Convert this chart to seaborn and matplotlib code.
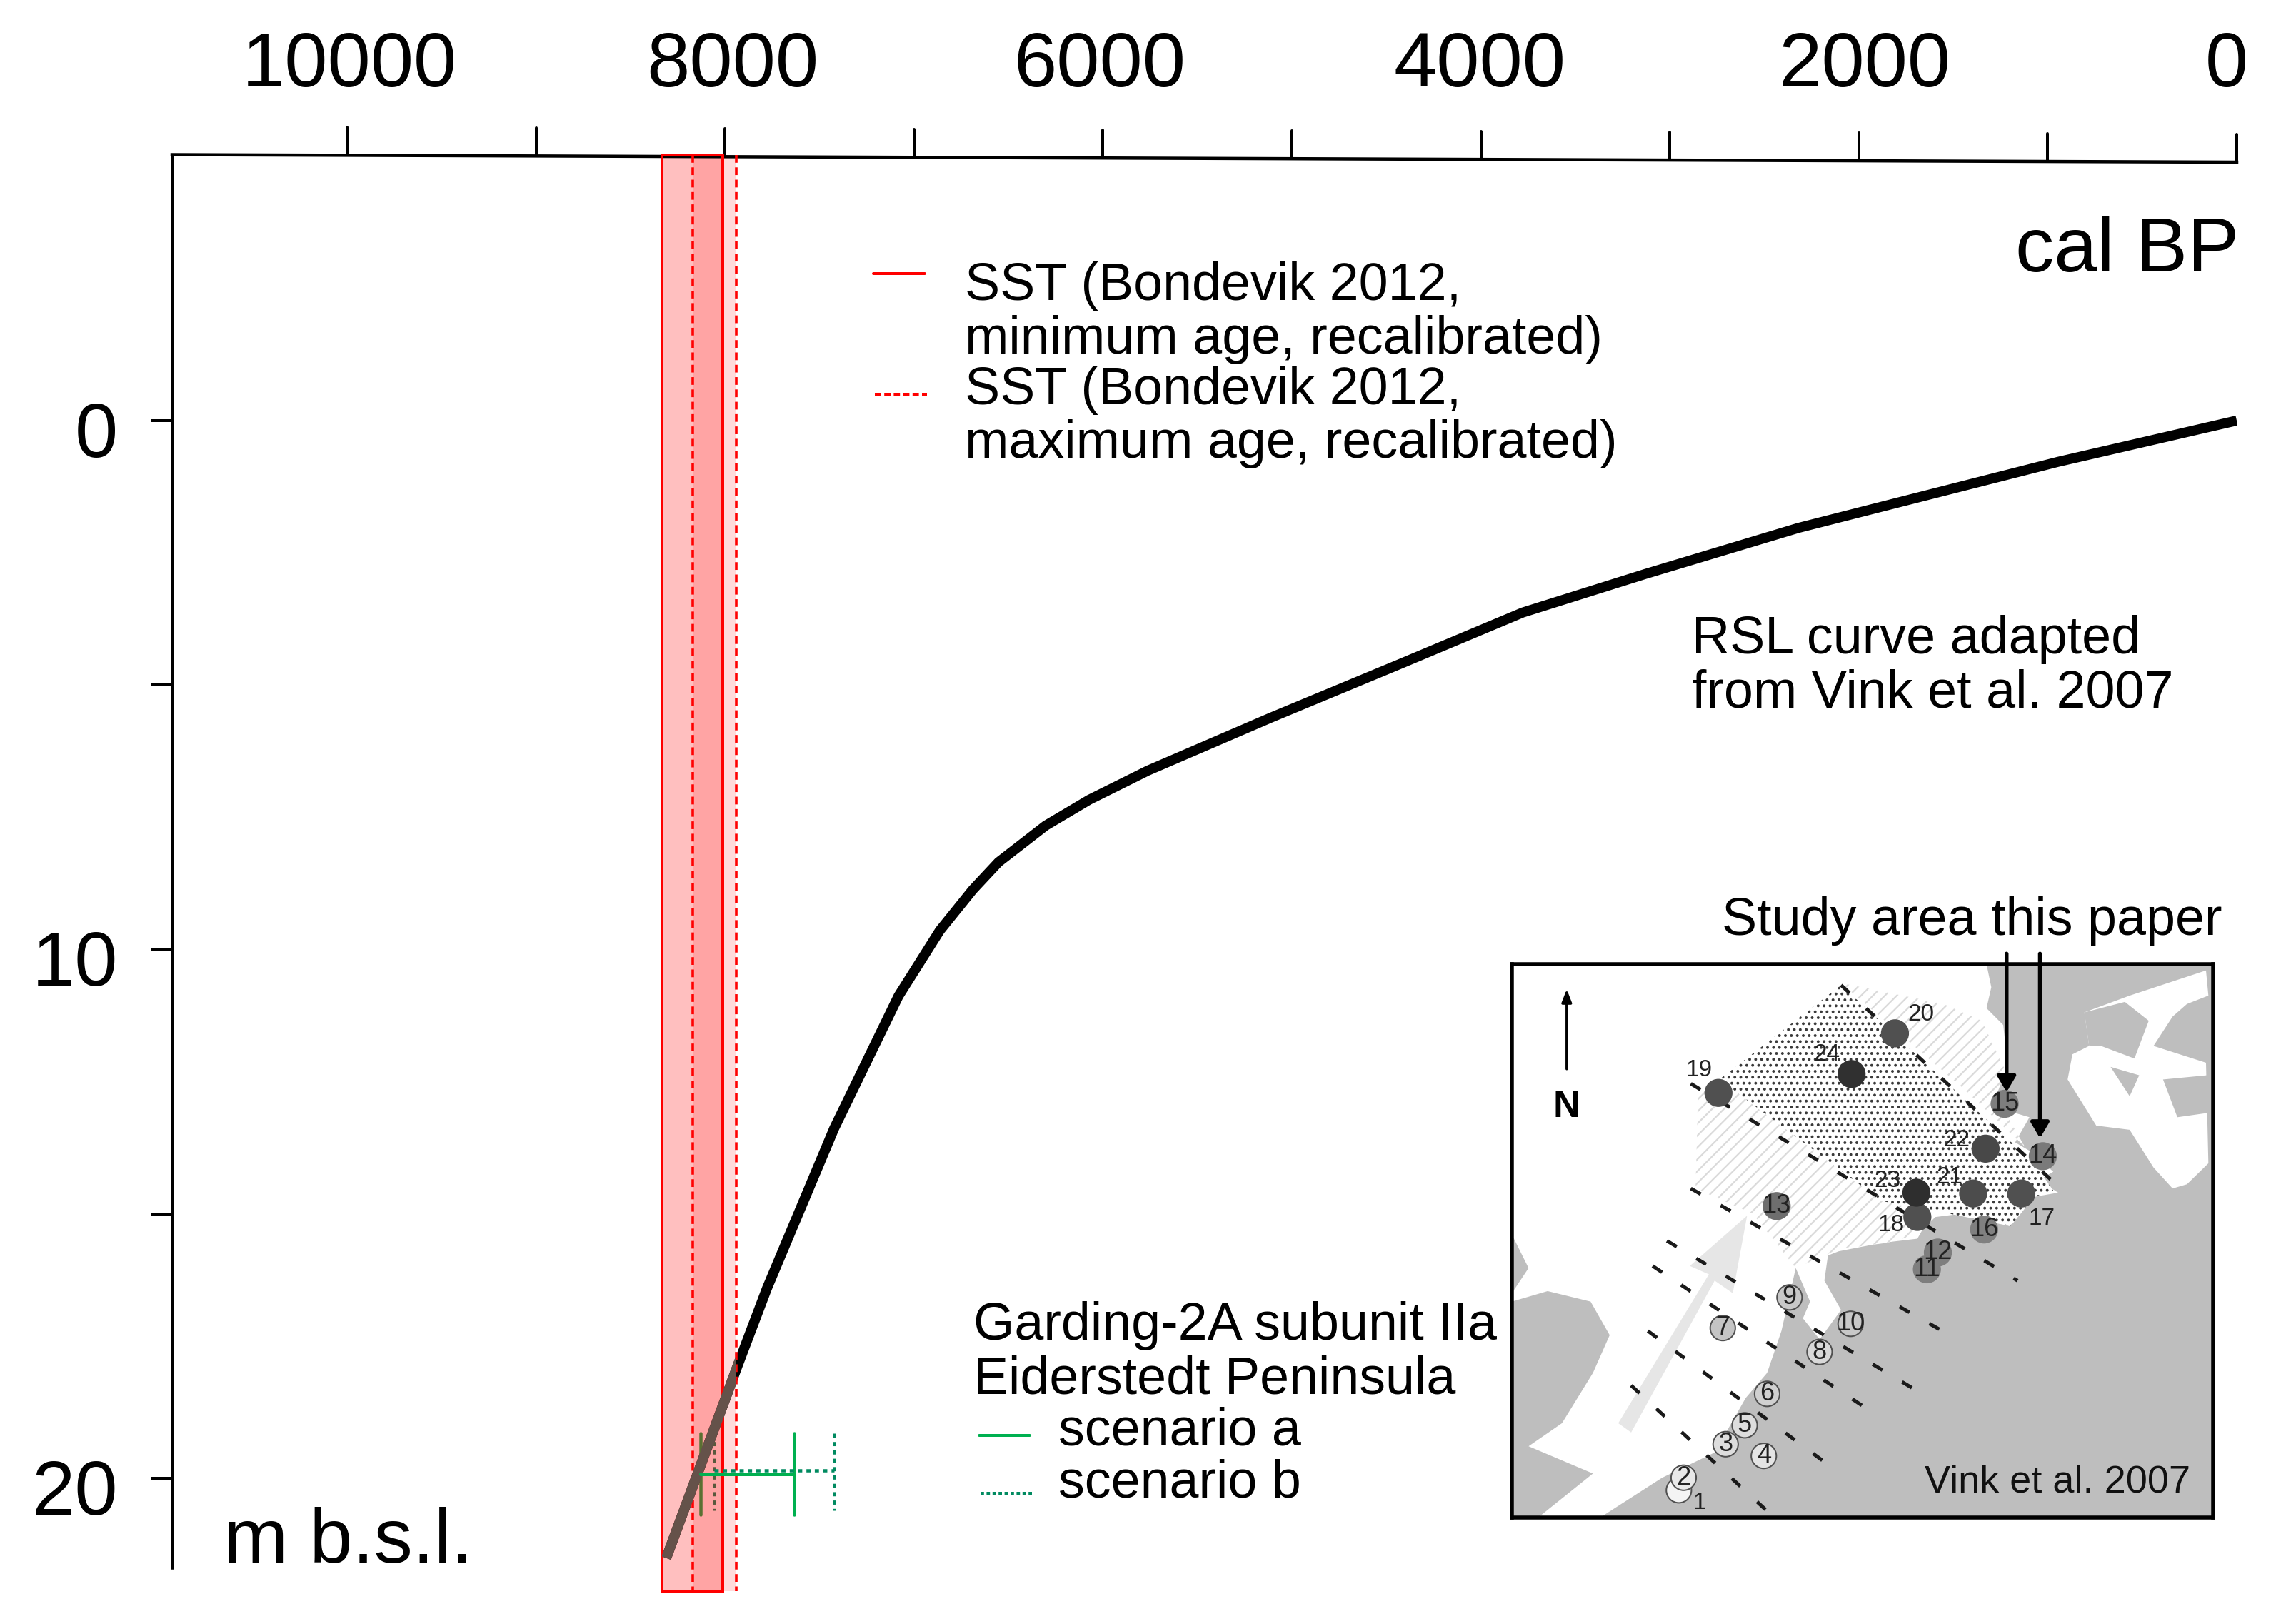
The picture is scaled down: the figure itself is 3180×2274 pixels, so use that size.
import numpy as np
import pandas as pd
import matplotlib
matplotlib.use("Agg")
import matplotlib.pyplot as plt
from matplotlib.lines import Line2D
from matplotlib.patches import Polygon, Rectangle
from matplotlib.transforms import ScaledTranslation
import seaborn as sns

# ---- chart values ----
age_ticks_major = [10000, 8000, 6000, 4000, 2000, 0]
age_ticks_all = [10000, 9000, 8000, 7000, 6000, 5000, 4000, 3000, 2000, 1000, 0]
depth_ticks_labeled = [0, 10, 20]
depth_ticks_all = [0, 5, 10, 15, 20]
curve_age = [0, 945, 2320, 3129, 3779, 4426, 5113, 5763, 6073, 6304, 6553, 6689, 6863, 7082, 7422, 7778, 7933, 8311]
curve_depth = [0, 0.78, 2.03, 2.90, 3.63, 4.60, 5.62, 6.62, 7.17, 7.66, 8.35, 8.87, 9.64, 10.88, 13.38, 16.41, 17.87, 21.51]
sst_min_age = [8332, 8012]
sst_max_age = [8172, 7940]
sst_depth = [-5.02, 22.13]
scen_a_age = [8131, 7634]
scen_a_depth = 19.92
scen_a_span = [19.15, 20.69]
scen_b_age = [8056, 7422]
scen_b_depth = 19.85
scen_b_span = [19.15, 20.61]

# ---- inset map values (in map-image units) ----
sea_outline = [(55,205),(1050,205),(1060,260),(1050,310),(1085,350),(1095,450),(1065,500),(1110,560),(1140,570),
               (1110,630),(1140,650),(1190,700),(1160,720),(1200,750),(1150,760),(1100,830),(1000,800),(930,810),
               (905,860),(830,870),(740,890),(650,930),(620,1080),(590,1180),(545,1240),(480,1370),(370,1430),
               (240,1525),(110,1525),(225,1420),(90,1355),(160,1300),(225,1180),(260,1090),(220,1010),(130,985),
               (55,1010),(55,990),(90,930),(55,850)]
bay_outline = [(650,930),(720,880),(710,960),(745,1030),(700,1100),(665,1050),(680,1010)]
island_outline = [(1255,320),(1350,280),(1510,220),(1515,280),(1470,300),(1440,330),(1400,400),(1510,440),(1515,680),
                  (1470,730),(1440,740),(1400,690),(1350,600),(1280,590),(1220,480),(1230,420),(1265,400)]
island_gray_outline = [(1255,320),(1340,295),(1390,340),(1360,430),(1290,400),(1265,400)]
island_gray_east = [(1420,480),(1512,470),(1512,560),(1450,570)]
island_gray_mid = [(1310,450),(1370,470),(1350,520)]
stripe_lower = [(445,520),(490,480),(830,770),(950,800),(905,850),(840,870),(740,885),(650,930),(560,800),(440,740)]
stripe_upper = [(745,250),(960,300),(1040,340),(1090,460),(1070,520),(1130,640),(1000,500)]
dots_outline = [(490,480),(745,255),(1150,680),(1190,745),(1150,760),(1100,830),(950,795),(830,770)]
flow_arrow = [(278,1300),(305,1322),(480,960),(518,990),(548,805),(428,925),(468,945)]
isobase_lines = [
    [(745,255),(1205,740)],
    [(430,490),(1115,960)],
    [(430,740),(965,1085)],
    [(380,865),(900,1220)],
    [(350,925),(805,1270)],
    [(340,1080),(725,1405)],
    [(305,1210),(600,1520)],
]
site_id = [1,2,3,4,5,6,7,8,9,10,11,12,13,14,15,16,17,18,19,20,21,22,23,24]
site_x = [405,415,503,583,543,590,497,700,637,765,925,948,610,1168,1088,1045,1123,905,488,858,1022,1048,903,767]
site_y = [1460,1430,1350,1378,1305,1230,1073,1130,1000,1063,933,893,782,663,538,838,752,808,512,370,752,645,750,467]
site_shade = ["#F4F4F4","#E8E8E8","#DDDDDD","#E4E4E4","#DDDDDD","#D0D0D0","#C4C4C4","#D8D8D8","#C8C8C8","#C8C8C8",
              "#7E7E7E","#7E7E7E","#6E6E6E","#7A7A7A","#7E7E7E","#808080","#505050","#505050","#505050","#505050",
              "#4C4C4C","#484848","#2E2E2E","#303030"]
outer_label_id = [1,17,18,19,20,21,22,23,24]
outer_label_x = [448,1165,850,448,912,972,988,843,715]
outer_label_y = [1490,812,828,458,325,713,625,722,420]

W, H, DPI = 3180, 2274, 100
sns.set_theme(style="white")
plt.rcParams["font.family"] = ["Liberation Sans", "DejaVu Sans"]
plt.rcParams["hatch.linewidth"] = 1.6

fig = plt.figure(figsize=(W / DPI, H / DPI), dpi=DPI, facecolor="white")
L, R, T, B = 241, 3132, 216.5, 2195
ax = fig.add_axes([L / W, 1 - B / H, (R - L) / W, (B - T) / H])
ax.set_facecolor("none")
ax.set_xlim(10926, 0)
ax.set_ylim(21.69, -5.03)

PT = 72 / DPI  # points per pixel
AX_LW = 4.5 * PT
RED, GREEN, TEAL = "#FF0000", "#00B050", "#008A60"

curve = pd.DataFrame({"age": curve_age, "depth": curve_depth})
sns.lineplot(data=curve, x="age", y="depth", sort=False, estimator=None, ax=ax, color="black",
             linewidth=14 * PT, zorder=1, solid_capstyle="butt")
brown = sns.lineplot(data=curve, x="age", y="depth", sort=False, estimator=None, ax=ax, color="#65524A",
                     linewidth=14 * PT, zorder=6, solid_capstyle="butt").lines[-1]
brown.set_clip_path(Rectangle((sst_max_age[1], sst_depth[0]), sst_min_age[0] - sst_max_age[1],
                              sst_depth[1] - sst_depth[0], transform=ax.transData))

# Error bars
ax.plot(scen_a_age, [scen_a_depth] * 2, color=GREEN, lw=5 * PT, zorder=7)
ax.plot(scen_b_age, [scen_b_depth] * 2, color=TEAL, lw=4.5 * PT, ls=(0, (1.3, 1.3)), zorder=7)
for a in scen_a_age:
    ax.plot([a, a], scen_a_span, color=GREEN, lw=4.5 * PT, zorder=2)
for a in scen_b_age:
    ax.plot([a, a], scen_b_span, color=TEAL, lw=4.5 * PT, ls=(0, (1.3, 1.3)), zorder=2)

# SST bands
ax.add_patch(Rectangle((sst_min_age[1], sst_depth[0]), sst_min_age[0] - sst_min_age[1], sst_depth[1] - sst_depth[0],
                       facecolor=RED, alpha=0.25, edgecolor="none", zorder=3, clip_on=False))
ax.add_patch(Rectangle((sst_min_age[1], sst_depth[0]), sst_min_age[0] - sst_min_age[1], sst_depth[1] - sst_depth[0],
                       facecolor="none", edgecolor=RED, lw=4 * PT, zorder=5, clip_on=False))
ax.add_patch(Rectangle((sst_max_age[1], sst_depth[0]), sst_max_age[0] - sst_max_age[1], sst_depth[1] - sst_depth[0],
                       facecolor=RED, alpha=0.14, edgecolor="none", zorder=3, clip_on=False))
for a in sst_max_age:
    ax.plot([a, a], sst_depth, color=RED, lw=3.6 * PT, ls=(0, (3.0, 1.8)), zorder=5, clip_on=False)

# Axes: tilted top line as in the source scan, real tick labels
for s in ("top", "right", "bottom"):
    ax.spines[s].set_visible(False)
ax.spines["left"].set_linewidth(AX_LW)
ax.spines["left"].set_color("black")
ax.xaxis.tick_top()
ax.set_xticks(age_ticks_major, [str(v) for v in age_ticks_major])
ax.tick_params(axis="x", length=0, pad=53, labelsize=78, labelcolor="black")
ax.set_yticks(depth_ticks_all, [str(v) if v in depth_ticks_labeled else "" for v in depth_ticks_all])
ax.tick_params(axis="y", length=29 * PT, width=4 * PT, color="black", pad=34, labelsize=78, labelcolor="black",
               left=True)
ax.set_xlabel("")
ax.set_ylabel("")


def top_y(age):
    return ax.get_ylim()[1] + (10926 - np.asarray(age, float)) / 10926 * 10.5 / 74.05


ax.plot([10926, 0], top_y([10926, 0]), color="black", lw=AX_LW, zorder=4, clip_on=False, solid_capstyle="projecting")
for a in age_ticks_all:
    y0 = top_y(a)
    ax.plot([a, a], [y0, y0 - 39 / 74.05], color="black", lw=4 * PT, zorder=4, clip_on=False)

label_shift_x = [3, 11, -4, -2, 8, -14]
for lab, dx in zip(ax.get_xticklabels(), label_shift_x):
    lab.set_transform(lab.get_transform() + ScaledTranslation(dx / DPI, 0, fig.dpi_scale_trans))
for lab in ax.get_yticklabels():
    lab.set_transform(lab.get_transform() + ScaledTranslation(0, -12 / DPI, fig.dpi_scale_trans))


def ftext(px, py, s, size=53, **kw):
    kw.setdefault("va", "center")
    kw.setdefault("ha", "left")
    kw.setdefault("color", "black")
    return fig.text(px / W, 1 - py / H, s, fontsize=size, **kw)


def fline(x0, x1, y, color, **kw):
    kw.setdefault("lw", 4 * PT)
    fig.add_artist(Line2D([x0 / W, x1 / W], [1 - y / H] * 2, color=color, **kw))


ftext(3135, 380, "cal BP", size=78, ha="right", va="baseline")
ftext(313, 2188, "m b.s.l.", size=78, va="baseline")
LS = 1.12
ftext(1351, 438, "SST (Bondevik 2012,\nminimum age, recalibrated)", linespacing=LS)
ftext(1351, 584, "SST (Bondevik 2012,\nmaximum age, recalibrated)", linespacing=LS)
ftext(2369, 933, "RSL curve adapted\nfrom Vink et al. 2007", linespacing=LS)
ftext(1363, 1894, "Garding-2A subunit IIa\nEiderstedt Peninsula", linespacing=LS)
ftext(1482, 2004, "scenario a")
ftext(1482, 2077, "scenario b")
ftext(2411, 1290, "Study area this paper")
fline(1223, 1295, 383, RED)
fline(1225, 1298, 552, RED, ls=(0, (2.2, 1.1)))
fline(1371, 1442, 2010, GREEN)
fline(1373, 1448, 2091, TEAL, ls=(0, (1.2, 0.9)))

# ---- inset map ----
IL, IR, IT, IB = 2117, 3099, 1350, 2125
m = fig.add_axes([IL / W, 1 - IB / H, (IR - IL) / W, (IB - IT) / H], zorder=5)
m.set_xlim(55, 1525)
m.set_ylim(1525, 205)
m.set_facecolor("#BEBEBE")
m.set_xticks([])
m.set_yticks([])
for s in m.spines.values():
    s.set_linewidth(5.5 * PT)
    s.set_color("black")
for poly in (sea_outline, bay_outline, island_outline):
    m.add_patch(Polygon(poly, closed=True, facecolor="white", edgecolor="none"))
for poly in (island_gray_outline, island_gray_east, island_gray_mid):
    m.add_patch(Polygon(poly, closed=True, facecolor="#BEBEBE", edgecolor="none"))
for poly in (stripe_lower, stripe_upper):
    m.add_patch(Polygon(poly, closed=True, facecolor="white", edgecolor="#DADADA", hatch="//", lw=0))
m.add_patch(Polygon(dots_outline, closed=True, facecolor="white", edgecolor="#3A3A3A", hatch="..", lw=0))
m.add_patch(Polygon(flow_arrow, closed=True, facecolor="#E6E6E6", edgecolor="none"))
for line in isobase_lines:
    xs, ys = zip(*line)
    m.plot(xs, ys, color="#1A1A1A", lw=5 * PT, ls=(0, (3.2, 6.4)), zorder=3)

sites = pd.DataFrame({"id": site_id, "x": site_x, "y": site_y, "shade": site_shade})
light = sites[sites["id"] <= 10]
dark = sites[sites["id"] > 10]
sns.scatterplot(data=light, x="x", y="y", hue="shade", palette=dict(zip(site_shade, site_shade)), ax=m, legend=False,
                s=640, edgecolor="#505050", linewidth=2 * PT, zorder=4)
sns.scatterplot(data=dark, x="x", y="y", hue="shade", palette=dict(zip(site_shade, site_shade)), ax=m, legend=False,
                s=800, edgecolor="none", linewidth=0, zorder=4)
m.set_xlabel("")
m.set_ylabel("")
for i, x, y in zip(site_id, site_x, site_y):
    if i not in outer_label_id:
        m.text(x, y, str(i), ha="center", va="center", fontsize=26, color="#222222", zorder=5)
for i, x, y in zip(outer_label_id, outer_label_x, outer_label_y):
    m.text(x, y, str(i), ha="center", va="center", fontsize=24, color="#222222", zorder=5)
m.annotate("", xy=(170, 265), xytext=(170, 455), zorder=6,
           arrowprops=dict(arrowstyle="-|>,head_length=0.9,head_width=0.35", color="black", lw=3.5 * PT, shrinkA=0, shrinkB=0))
m.text(170, 545, "N", ha="center", va="center", fontsize=38, fontweight="bold", color="black", zorder=6)
m.text(1478, 1440, "Vink et al. 2007", ha="right", va="center", fontsize=39, color="#111111", zorder=6)
for x, y_end in zip([1092, 1162], [510, 620]):
    m.annotate("", xy=(x, y_end), xytext=(x, 180), annotation_clip=False, zorder=7,
               arrowprops=dict(arrowstyle="-|>,head_length=1.1,head_width=0.65", color="black", lw=5.5 * PT,
                               shrinkA=0, shrinkB=0))

fig.savefig("out.png", dpi=DPI, facecolor="white")
